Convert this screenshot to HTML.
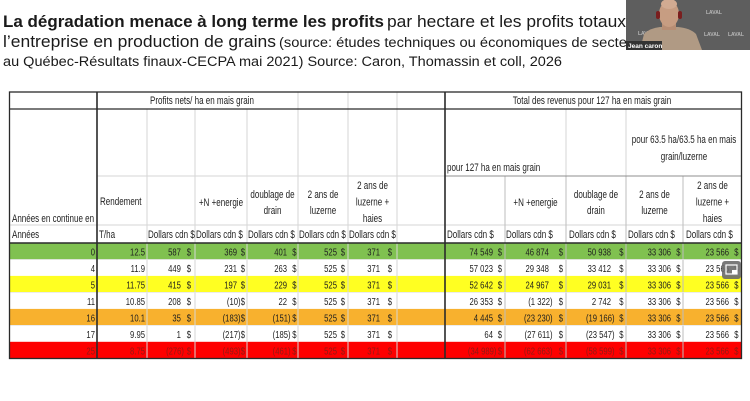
<!DOCTYPE html>
<html><head><meta charset="utf-8">
<style>
html,body{margin:0;padding:0;background:#fff;}
body{width:750px;height:401px;overflow:hidden;}
svg{display:block;font-family:"Liberation Sans",sans-serif;}
</style></head>
<body>
<svg width="750" height="401" viewBox="0 0 750 401" xmlns="http://www.w3.org/2000/svg">
<rect x="0" y="0" width="750" height="401" fill="#fff"/>

<!-- Title -->
<g fill="#1a1a1a">
<text x="3" y="27" font-size="17" font-weight="bold" textLength="381" lengthAdjust="spacingAndGlyphs">La dégradation menace à long terme les profits</text>
<text x="387" y="27" font-size="17" textLength="239" lengthAdjust="spacingAndGlyphs">par hectare et les profits totaux</text>
<text x="3" y="47" font-size="16.5" textLength="273" lengthAdjust="spacingAndGlyphs">l’entreprise en production de grains</text>
<text x="279" y="47" font-size="13.5" textLength="361" lengthAdjust="spacingAndGlyphs">(source: études techniques ou économiques de secteur</text>
<text x="684" y="47" font-size="13.5">grains</text>
<text x="3" y="66" font-size="13.5" textLength="559" lengthAdjust="spacingAndGlyphs">au Québec-Résultats finaux-CECPA mai 2021) Source: Caron, Thomassin et coll, 2026</text>
</g>

<!-- Row fills -->
<rect x="10" y="243" width="731" height="16.5" fill="#80c150"/>
<rect x="10" y="275.9" width="731" height="16.5" fill="#ffff22"/>
<rect x="10" y="308.9" width="731" height="16.5" fill="#f8b12e"/>
<rect x="10" y="341.8" width="731" height="16.5" fill="#fe0000"/>

<!-- light grid lines -->
<g stroke="#d6d6d6" stroke-width="1">
<line x1="147" y1="109" x2="147" y2="358"/>
<line x1="195" y1="109" x2="195" y2="358"/>
<line x1="247" y1="109" x2="247" y2="358"/>
<line x1="298" y1="92" x2="298" y2="358"/>
<line x1="348" y1="92" x2="348" y2="358"/>
<line x1="397" y1="92" x2="397" y2="358"/>
<line x1="566" y1="109" x2="566" y2="176"/>
<line x1="626" y1="109" x2="626" y2="176"/>
<line x1="97" y1="176" x2="445" y2="176"/>
<line x1="10" y1="225" x2="741" y2="225"/>
</g>
<g stroke="#bdbdbd" stroke-width="1">
<line x1="505" y1="176" x2="505" y2="358"/>
<line x1="566" y1="176" x2="566" y2="358"/>
<line x1="626" y1="176" x2="626" y2="358"/>
<line x1="683" y1="176" x2="683" y2="358"/>
</g>
<line x1="445" y1="176" x2="741" y2="176" stroke="#8f8f8f" stroke-width="1"/>
<g stroke="#e6e6e6" stroke-width="0.8">
<line x1="10" y1="259.5" x2="741" y2="259.5"/>
<line x1="10" y1="292.4" x2="741" y2="292.4"/>
<line x1="10" y1="325.4" x2="741" y2="325.4"/>
</g>

<defs>
<clipPath id="c2"><rect x="147" y="225" width="48" height="18"/></clipPath>
<clipPath id="c5"><rect x="298" y="225" width="50" height="18"/></clipPath>
</defs>

<!-- Header text (scaled horizontally) -->
<g fill="#1e1e1e" font-size="11">
<g transform="scale(0.73,1)">
<text x="276.7" y="104" text-anchor="middle">Profits nets/ ha en mais grain</text>
<text x="810.96" y="104" text-anchor="middle">Total des revenus pour 127 ha en mais grain</text>
<text x="612.3" y="171">pour 127 ha en mais grain</text>
<text x="937" y="143" text-anchor="middle">pour 63.5 ha/63.5 ha en mais</text>
<text x="937" y="160" text-anchor="middle">grain/luzerne</text>

<text x="16.4" y="222">Années en continue en</text>
<text x="137" y="205">Rendement</text>
<text x="302.7" y="206" text-anchor="middle">+N +energie</text>
<text x="373.3" y="198" text-anchor="middle">doublage de</text>
<text x="373.3" y="214" text-anchor="middle">drain</text>
<text x="442.5" y="198" text-anchor="middle">2 ans de</text>
<text x="442.5" y="214" text-anchor="middle">luzerne</text>
<text x="510.3" y="189" text-anchor="middle">2 ans de</text>
<text x="510.3" y="205.5" text-anchor="middle">luzerne +</text>
<text x="510.3" y="222" text-anchor="middle">haies</text>

<text x="733.6" y="206" text-anchor="middle">+N +energie</text>
<text x="816.4" y="198" text-anchor="middle">doublage de</text>
<text x="816.4" y="214" text-anchor="middle">drain</text>
<text x="896.6" y="198" text-anchor="middle">2 ans de</text>
<text x="896.6" y="214" text-anchor="middle">luzerne</text>
<text x="976" y="189" text-anchor="middle">2 ans de</text>
<text x="976" y="205.5" text-anchor="middle">luzerne +</text>
<text x="976" y="222" text-anchor="middle">haies</text>

<text x="16.4" y="238">Années</text>
<text x="135.6" y="238">T/ha</text>
<text x="268.5" y="238">Dollars cdn $</text>
<text x="339.7" y="238">Dollars cdn $</text>
<text x="478.1" y="238">Dollars cdn $</text>
<text x="612.3" y="238">Dollars cdn $</text>
<text x="693.2" y="238">Dollars cdn $</text>
<text x="779.5" y="238">Dollars cdn $</text>
<text x="860.3" y="238">Dollars cdn $</text>
<text x="939.7" y="238">Dollars cdn $</text>
</g>
<g clip-path="url(#c2)"><g transform="scale(0.73,1)"><text x="202.7" y="238">Dollars cdn $</text></g></g>
<g clip-path="url(#c5)"><g transform="scale(0.73,1)"><text x="409.6" y="238">Dollars cdn $</text></g></g>
</g>

<!-- Data -->
<g font-size="10.5" text-anchor="end">
<g transform="scale(0.73,1)" fill="#1e1e1e">
<!-- row 0 -->
<text x="130.1" y="255.5">0</text><text x="198.6" y="255.5">12.5</text>
<text x="247.9" y="255.5">587</text><text x="261.6" y="255.5">$</text>
<text x="324.7" y="255.5">369</text><text x="335.6" y="255.5">$</text>
<text x="393.2" y="255.5">401</text><text x="406.2" y="255.5">$</text>
<text x="461.6" y="255.5">525</text><text x="472.6" y="255.5">$</text>
<text x="520.6" y="255.5">371</text><text x="537" y="255.5">$</text>
<text x="675.3" y="255.5">74 549</text><text x="687.7" y="255.5">$</text>
<text x="752" y="255.5">46 874</text><text x="771.2" y="255.5">$</text>
<text x="837" y="255.5">50 938</text><text x="854.1" y="255.5">$</text>
<text x="919.2" y="255.5">33 306</text><text x="932.2" y="255.5">$</text>
<text x="998.6" y="255.5">23 566</text><text x="1011.6" y="255.5">$</text>
<!-- row 1 -->
<text x="130.1" y="272">4</text><text x="198.6" y="272">11.9</text>
<text x="247.9" y="272">449</text><text x="261.6" y="272">$</text>
<text x="324.7" y="272">231</text><text x="335.6" y="272">$</text>
<text x="393.2" y="272">263</text><text x="406.2" y="272">$</text>
<text x="461.6" y="272">525</text><text x="472.6" y="272">$</text>
<text x="520.6" y="272">371</text><text x="537" y="272">$</text>
<text x="675.3" y="272">57 023</text><text x="687.7" y="272">$</text>
<text x="752" y="272">29 348</text><text x="771.2" y="272">$</text>
<text x="837" y="272">33 412</text><text x="854.1" y="272">$</text>
<text x="919.2" y="272">33 306</text><text x="932.2" y="272">$</text>
<text x="998.6" y="272">23 566</text><text x="1011.6" y="272">$</text>
<!-- row 2 -->
<text x="130.1" y="288.4">5</text><text x="198.6" y="288.4">11.75</text>
<text x="247.9" y="288.4">415</text><text x="261.6" y="288.4">$</text>
<text x="324.7" y="288.4">197</text><text x="335.6" y="288.4">$</text>
<text x="393.2" y="288.4">229</text><text x="406.2" y="288.4">$</text>
<text x="461.6" y="288.4">525</text><text x="472.6" y="288.4">$</text>
<text x="520.6" y="288.4">371</text><text x="537" y="288.4">$</text>
<text x="675.3" y="288.4">52 642</text><text x="687.7" y="288.4">$</text>
<text x="752" y="288.4">24 967</text><text x="771.2" y="288.4">$</text>
<text x="837" y="288.4">29 031</text><text x="854.1" y="288.4">$</text>
<text x="919.2" y="288.4">33 306</text><text x="932.2" y="288.4">$</text>
<text x="998.6" y="288.4">23 566</text><text x="1011.6" y="288.4">$</text>
<!-- row 3 -->
<text x="130.1" y="304.9">11</text><text x="198.6" y="304.9">10.85</text>
<text x="247.9" y="304.9">208</text><text x="261.6" y="304.9">$</text>
<text x="329.5" y="304.9">(10)</text><text x="335.6" y="304.9">$</text>
<text x="393.2" y="304.9">22</text><text x="406.2" y="304.9">$</text>
<text x="461.6" y="304.9">525</text><text x="472.6" y="304.9">$</text>
<text x="520.6" y="304.9">371</text><text x="537" y="304.9">$</text>
<text x="675.3" y="304.9">26 353</text><text x="687.7" y="304.9">$</text>
<text x="756.9" y="304.9">(1 322)</text><text x="771.2" y="304.9">$</text>
<text x="837" y="304.9">2 742</text><text x="854.1" y="304.9">$</text>
<text x="919.2" y="304.9">33 306</text><text x="932.2" y="304.9">$</text>
<text x="998.6" y="304.9">23 566</text><text x="1011.6" y="304.9">$</text>
<!-- row 4 -->
<text x="130.1" y="321.4">16</text><text x="198.6" y="321.4">10.1</text>
<text x="247.9" y="321.4">35</text><text x="261.6" y="321.4">$</text>
<text x="329.5" y="321.4">(183)</text><text x="335.6" y="321.4">$</text>
<text x="398" y="321.4">(151)</text><text x="406.2" y="321.4">$</text>
<text x="461.6" y="321.4">525</text><text x="472.6" y="321.4">$</text>
<text x="520.6" y="321.4">371</text><text x="537" y="321.4">$</text>
<text x="675.3" y="321.4">4 445</text><text x="687.7" y="321.4">$</text>
<text x="756.9" y="321.4">(23 230)</text><text x="771.2" y="321.4">$</text>
<text x="841.8" y="321.4">(19 166)</text><text x="854.1" y="321.4">$</text>
<text x="919.2" y="321.4">33 306</text><text x="932.2" y="321.4">$</text>
<text x="998.6" y="321.4">23 566</text><text x="1011.6" y="321.4">$</text>
<!-- row 5 -->
<text x="130.1" y="337.9">17</text><text x="198.6" y="337.9">9.95</text>
<text x="247.9" y="337.9">1</text><text x="261.6" y="337.9">$</text>
<text x="329.5" y="337.9">(217)</text><text x="335.6" y="337.9">$</text>
<text x="398" y="337.9">(185)</text><text x="406.2" y="337.9">$</text>
<text x="461.6" y="337.9">525</text><text x="472.6" y="337.9">$</text>
<text x="520.6" y="337.9">371</text><text x="537" y="337.9">$</text>
<text x="675.3" y="337.9">64</text><text x="687.7" y="337.9">$</text>
<text x="756.9" y="337.9">(27 611)</text><text x="771.2" y="337.9">$</text>
<text x="841.8" y="337.9">(23 547)</text><text x="854.1" y="337.9">$</text>
<text x="919.2" y="337.9">33 306</text><text x="932.2" y="337.9">$</text>
<text x="998.6" y="337.9">23 566</text><text x="1011.6" y="337.9">$</text>
</g>
<g transform="scale(0.73,1)" fill="#8e1a14">
<!-- row 6 -->
<text x="130.1" y="354.3">25</text><text x="198.6" y="354.3">8.75</text>
<text x="252" y="354.3">(276)</text><text x="261.6" y="354.3">$</text>
<text x="329.5" y="354.3">(493)</text><text x="335.6" y="354.3">$</text>
<text x="398" y="354.3">(461)</text><text x="406.2" y="354.3">$</text>
<text x="461.6" y="354.3">525</text><text x="472.6" y="354.3">$</text>
<text x="520.6" y="354.3">371</text><text x="537" y="354.3">$</text>
<text x="680.1" y="354.3">(34 989)</text><text x="687.7" y="354.3">$</text>
<text x="756.9" y="354.3">(62 663)</text><text x="771.2" y="354.3">$</text>
<text x="841.8" y="354.3">(58 599)</text><text x="854.1" y="354.3">$</text>
<text x="919.2" y="354.3">33 306</text><text x="932.2" y="354.3">$</text>
<text x="998.6" y="354.3">23 566</text><text x="1011.6" y="354.3">$</text>
</g>
</g>

<!-- dark lines -->
<g stroke="#2a2a2a" fill="none">
<rect x="9.5" y="92" width="732" height="266.5" stroke-width="1.3"/>
<line x1="97" y1="92" x2="97" y2="358.5" stroke-width="1.6"/>
<line x1="445" y1="92" x2="445" y2="358.5" stroke-width="1.6"/>
<line x1="9.5" y1="109" x2="741.5" y2="109" stroke-width="1.2"/>
<line x1="9.5" y1="243" x2="741.5" y2="243" stroke-width="1.6"/>
</g>

<!-- overlay icon -->
<rect x="722" y="261" width="19" height="18" rx="3" fill="#6a6a6a" opacity="0.9"/>
<rect x="726" y="265" width="11" height="9" fill="none" stroke="#fff" stroke-width="1.2"/>
<rect x="732" y="270" width="5" height="4" fill="#fff"/>

<!-- webcam -->
<rect x="626" y="0" width="124" height="50" fill="#5e5e5e"/>
<g fill="#cfcfcf" font-size="5" font-weight="bold" opacity="0.8">
<text x="706" y="14">LAVAL</text>
<text x="638" y="35">LAVAL</text>
<text x="704" y="36">LAVAL</text>
<text x="728" y="36">LAVAL</text>
</g>
<path d="M640 50 L644 34 Q650 28 660 27 L678 27 Q690 28 696 34 L702 50 Z" fill="#b09a84"/>
<rect x="662" y="20" width="14" height="10" fill="#b88e74"/>
<ellipse cx="669" cy="14" rx="10" ry="13" fill="#c79d82"/>
<ellipse cx="669" cy="4" rx="8" ry="5" fill="#d2ab92"/>
<rect x="656" y="11" width="4" height="8" rx="2" fill="#7a1e1e"/>
<rect x="678" y="11" width="4" height="8" rx="2" fill="#7a1e1e"/>
<rect x="626" y="41" width="36" height="9" fill="#333"/>
<text x="628" y="48" font-size="6.5" font-weight="bold" fill="#fff">Jean caron</text>
</svg>
</body></html>
